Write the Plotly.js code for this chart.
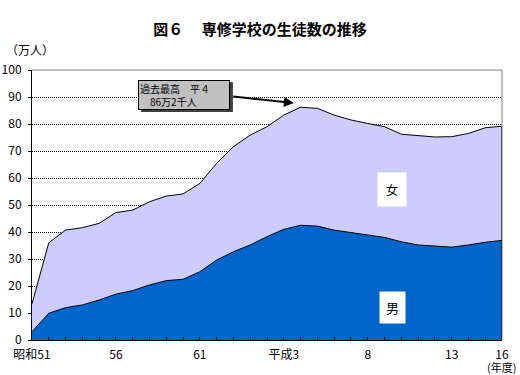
<!DOCTYPE html>
<html><head><meta charset="utf-8">
<script src="https://cdn.plot.ly/plotly-3.0.1.min.js"></script>
<style>body{margin:0;background:#fff}</style>
</head><body>
<div id="chart" style="width:520px;height:375px"></div>
<script>
// 年度 (昭和51 = 1976 ... 平成16 = 2004)
const yearLabels = ["昭和51","52","53","54","55","56","57","58","59","60","61","62","63","平成元","2","平成3","4","5","6","7","8","9","10","11","12","13","14","15","16"];
const shownLabels = ["昭和51","56","61","平成3","8","13","16"];
// 生徒数（万人）
const male   = [3.1,9.9,12.0,13.0,14.8,17.0,18.3,20.4,22.0,22.5,25.3,29.6,32.7,35.2,38.3,41.0,42.5,42.2,40.7,39.8,38.9,38.0,36.4,35.2,34.8,34.4,35.2,36.2,36.9];
const female = [10.3,26.1,28.7,28.6,28.4,30.2,29.8,30.8,31.3,31.6,32.7,35.8,38.9,40.7,40.7,42.3,43.7,43.6,42.6,41.7,41.3,41.0,39.8,40.6,40.4,40.9,41.3,42.4,42.3];
const yTicks = [0,10,20,30,40,50,60,70,80,90,100];

const xIdx = yearLabels.map((_, i) => i);
const tickText = yearLabels.map(l => shownLabels.includes(l) ? l : "");
const last = xIdx.length - 1;
const totalLast = male[last] + female[last];

const FONT = "Noto Sans CJK JP, sans-serif";

const traces = [
  {x: xIdx, y: male, type: 'scatter', mode: 'lines', stackgroup: 'one', name: '男',
   fillcolor: '#0066CC', line: {color: '#000', width: 1}},
  {x: xIdx, y: female, type: 'scatter', mode: 'lines', stackgroup: 'one', name: '女',
   fillcolor: '#CCCCFF', line: {color: '#000', width: 1}}
];

const noteX = 9.05, noteY = 90.7;

const layout = {
  width: 520, height: 375,
  margin: {l: 32, r: 18, t: 70, b: 35},
  paper_bgcolor: '#fff', plot_bgcolor: '#fff',
  showlegend: false,
  font: {family: FONT, size: 12, color: '#000'},
  title: {text: '<b>図６　 専修学校の生徒数の推移</b>', x: 0.5, xref: 'container', y: 0.92, yref: 'container', yanchor: 'middle',
          font: {family: FONT, size: 15, color: '#000'}},
  xaxis: {range: [0, last], tickmode: 'array', tickvals: xIdx, ticktext: tickText,
          ticks: 'inside', ticklen: 3, tickcolor: '#000', showgrid: false, zeroline: false,
          showline: true, linecolor: '#000', linewidth: 1, tickangle: 0, ticklabelstandoff: 4,
          tickfont: {family: FONT, size: 12}, fixedrange: true},
  yaxis: {range: [0, 100], tickmode: 'array', tickvals: yTicks, ticks: 'outside', ticklen: 3, tickcolor: '#000',
          showgrid: true, gridcolor: '#000', gridwidth: 1, griddash: '1px,1px', zeroline: false,
          showline: true, linecolor: '#000', linewidth: 1, ticklabelstandoff: 4,
          tickfont: {family: FONT, size: 12}, fixedrange: true},
  shapes: [
    {type: 'line', xref: 'paper', yref: 'paper', x0: 0, x1: 1, y0: 1, y1: 1, line: {color: '#808080', width: 1}},
    {type: 'line', xref: 'paper', yref: 'paper', x0: 1, x1: 1, y0: 0, y1: 1, line: {color: '#808080', width: 1}},
    {type: 'line', xref: 'x', yref: 'y', x0: last, x1: last, y0: 0, y1: totalLast, line: {color: '#000', width: 1}},
    // shadow of note box
    {type: 'rect', xref: 'x', yref: 'y', xsizemode: 'pixel', ysizemode: 'pixel', xanchor: noteX, yanchor: noteY,
     x0: -43, x1: 49, y0: -17, y1: 13, fillcolor: '#404040', line: {width: 0}}
  ],
  annotations: [
    {text: '（万人）', xref: 'paper', yref: 'paper', x: -0.005, y: 1.075, xanchor: 'center', yanchor: 'middle', showarrow: false,
     font: {family: FONT, size: 12}},
    {text: '(年度)', xref: 'paper', yref: 'paper', x: 1.034, y: -0.101, xanchor: 'right', yanchor: 'middle', showarrow: false,
     font: {family: FONT, size: 11}},
    {text: '過去最高　平４<br>　86万2千人', x: noteX, y: noteY, xref: 'x', yref: 'y', showarrow: false, align: 'left',
     width: 88, height: 26, valign: 'middle',
     bgcolor: '#C0C0C0', bordercolor: '#000', borderwidth: 1, borderpad: 1,
     font: {family: FONT, size: 10, color: '#000'}},
    {text: '', x: 15.6, y: 87.8, xref: 'x', yref: 'y', ax: 11.9, ay: 90.2, axref: 'x', ayref: 'y',
     showarrow: true, arrowhead: 2, arrowsize: 1, arrowwidth: 2, arrowcolor: '#000'},
    {text: '女', x: 21.45, y: 55.6, xref: 'x', yref: 'y', showarrow: false, bgcolor: '#fff', borderpad: 8,
     font: {family: FONT, size: 12}},
    {text: '男', x: 21.45, y: 11.9, xref: 'x', yref: 'y', showarrow: false, bgcolor: '#fff', borderpad: 6,
     font: {family: FONT, size: 13}}
  ]
};

Plotly.newPlot('chart', traces, layout, {displayModeBar: false, staticPlot: true});
</script>
</body></html>
